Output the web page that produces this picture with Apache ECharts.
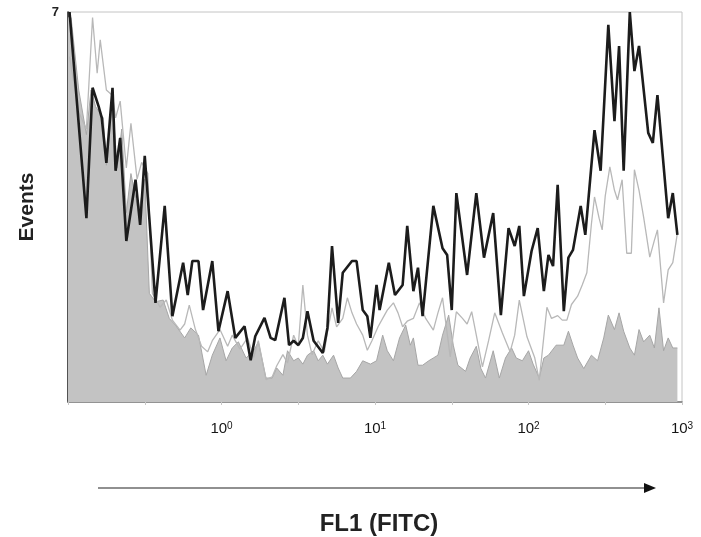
<!DOCTYPE html>
<html>
<head>
<meta charset="utf-8">
<script src="https://cdn.jsdelivr.net/npm/echarts@6/dist/echarts.min.js"></script>
<style>
  html, body { margin: 0; padding: 0; background: #fff; }
  #chart { width: 701px; height: 537px; }
</style>
</head>
<body>
<div id="chart"></div>
<script>
// FL1 positions are stored as log10 of the intensity (axis runs 10^-1 .. 10^3)
const decadeTicks = [0, 1, 2, 3];
const supDigits = ["0", "1", "2", "3"];

// filled grey histogram (control)
const controlPos = [-1.00,-0.98,-0.93,-0.88,-0.85,-0.82,-0.77,-0.75,-0.71,-0.68,-0.65,-0.62,-0.59,-0.54,-0.50,-0.47,-0.43,-0.38,-0.34,-0.30,-0.24,-0.20,-0.15,-0.10,-0.06,-0.01,0.03,0.07,0.11,0.16,0.21,0.24,0.29,0.33,0.36,0.40,0.43,0.47,0.50,0.53,0.56,0.60,0.63,0.66,0.69,0.73,0.76,0.79,0.84,0.88,0.92,0.97,1.01,1.05,1.08,1.12,1.16,1.20,1.23,1.25,1.28,1.31,1.35,1.38,1.41,1.44,1.48,1.51,1.54,1.59,1.62,1.66,1.69,1.72,1.77,1.81,1.85,1.89,1.92,1.96,2.00,2.03,2.07,2.10,2.13,2.18,2.23,2.26,2.29,2.32,2.36,2.41,2.45,2.49,2.52,2.56,2.59,2.62,2.66,2.69,2.72,2.75,2.79,2.82,2.85,2.88,2.91,2.94,2.97];
const controlEvents = [6.9,6.9,5.6,4.8,5.6,5.3,5.1,4.25,5.4,4.2,4.9,3.4,4.1,3.4,4.0,1.95,1.8,1.83,1.5,1.38,1.15,1.33,1.2,0.48,0.84,1.15,0.74,0.97,1.08,0.79,0.92,1.08,0.43,0.43,0.61,0.48,0.92,0.74,0.79,0.68,0.84,0.92,0.74,0.84,0.68,0.84,0.61,0.43,0.43,0.55,0.74,0.68,0.74,1.2,0.92,0.74,1.15,1.38,1.02,1.15,0.66,0.66,0.74,0.79,0.84,1.2,1.56,1.02,0.66,0.55,0.79,1.0,0.6,0.43,0.92,0.43,0.79,0.97,0.79,0.74,0.92,0.68,0.43,0.79,0.84,1.02,1.02,1.27,1.02,0.79,0.6,0.84,0.74,1.15,1.56,1.3,1.6,1.27,0.97,0.84,1.3,1.08,1.2,0.97,1.69,0.92,1.15,0.97,0.97];

// thin light grey line
const lightPos = [-0.99,-0.93,-0.88,-0.84,-0.81,-0.79,-0.75,-0.71,-0.69,-0.66,-0.62,-0.59,-0.55,-0.52,-0.48,-0.45,-0.40,-0.36,-0.32,-0.27,-0.24,-0.21,-0.17,-0.13,-0.09,-0.06,-0.01,0.04,0.07,0.12,0.17,0.21,0.24,0.29,0.33,0.36,0.40,0.43,0.47,0.50,0.53,0.56,0.59,0.63,0.67,0.69,0.72,0.75,0.79,0.82,0.85,0.88,0.92,0.95,0.98,1.02,1.05,1.08,1.12,1.15,1.18,1.21,1.25,1.29,1.33,1.38,1.41,1.44,1.49,1.53,1.57,1.60,1.63,1.66,1.70,1.74,1.78,1.83,1.88,1.91,1.94,1.99,2.04,2.07,2.12,2.15,2.19,2.22,2.25,2.28,2.32,2.35,2.38,2.41,2.43,2.46,2.48,2.50,2.53,2.56,2.58,2.61,2.64,2.67,2.69,2.72,2.75,2.79,2.82,2.84,2.88,2.91,2.94,2.97];
const lightEvents = [6.2,5.2,4.9,6.9,5.9,6.5,5.6,5.5,5.1,5.4,4.2,5.0,4.0,4.3,4.1,1.95,1.7,1.83,1.47,1.29,1.4,1.74,1.3,1.0,0.9,1.1,1.3,1.0,1.2,0.95,1.15,0.8,1.1,0.4,0.45,0.65,0.85,0.7,1.2,1.0,2.1,1.2,0.85,1.1,0.9,1.25,1.69,1.35,1.5,1.87,1.6,1.4,1.2,0.93,1.1,1.35,1.5,1.65,1.78,1.6,1.35,1.45,1.5,1.78,1.5,1.29,1.6,1.87,0.81,1.62,1.5,1.4,1.62,1.2,0.63,1.1,1.6,1.24,0.9,1.2,1.83,1.17,0.8,0.39,1.7,1.5,1.55,1.47,1.47,1.75,1.9,2.1,2.32,3.2,3.68,3.3,3.09,3.7,4.22,3.8,3.63,3.99,2.67,2.67,4.17,3.8,3.32,2.6,2.9,3.09,1.78,2.37,2.5,3.03];

// thick black line
const blackPos = [-0.99,-0.88,-0.84,-0.80,-0.78,-0.75,-0.71,-0.69,-0.66,-0.62,-0.56,-0.53,-0.50,-0.43,-0.37,-0.32,-0.25,-0.22,-0.19,-0.15,-0.12,-0.06,-0.02,0.04,0.09,0.15,0.19,0.22,0.28,0.32,0.35,0.41,0.44,0.47,0.50,0.53,0.56,0.60,0.66,0.69,0.72,0.76,0.79,0.85,0.88,0.92,0.95,0.97,1.01,1.03,1.09,1.13,1.18,1.21,1.25,1.28,1.31,1.38,1.44,1.47,1.50,1.53,1.60,1.66,1.71,1.77,1.82,1.87,1.91,1.94,1.97,2.02,2.06,2.10,2.13,2.16,2.19,2.23,2.26,2.29,2.34,2.37,2.43,2.47,2.52,2.56,2.59,2.62,2.66,2.69,2.72,2.78,2.81,2.84,2.91,2.94,2.97];
const blackEvents = [7.0,3.3,5.64,5.3,5.1,4.29,5.64,4.15,4.74,2.89,3.99,3.18,4.42,1.78,3.52,1.54,2.5,1.92,2.53,2.53,1.65,2.53,1.27,1.99,1.15,1.36,0.75,1.18,1.51,1.15,1.11,1.87,1.02,1.1,1.02,1.15,1.63,1.1,0.88,1.33,2.8,1.42,2.32,2.53,2.53,1.65,1.54,1.15,2.1,1.65,2.5,1.92,2.1,3.16,1.99,2.41,1.54,3.52,2.76,2.64,1.65,3.75,2.28,3.75,2.59,3.39,1.56,3.12,2.8,3.16,1.9,2.71,3.12,1.99,2.64,2.44,3.9,1.63,2.59,2.73,3.52,3.0,4.88,4.15,6.77,5.04,6.39,4.15,7.0,5.94,6.39,4.83,4.65,5.51,3.3,3.75,3.0];

const yMax = 7;

function pairs(xs, ys) {
  return xs.map((x, i) => [x, ys[i]]);
}

const chart = echarts.init(document.getElementById("chart"));

const option = {
  animation: false,
  backgroundColor: "#fff",
  textStyle: { fontFamily: "Liberation Sans, Arial, sans-serif" },
  grid: {
    left: 68,
    right: 19,
    top: 12,
    bottom: 135,
    show: true,
    borderColor: "#c4c4c4",
    borderWidth: 1,
  },
  xAxis: {
    type: "value",
    min: -1,
    max: 3,
    interval: 0.5,
    splitLine: { show: false },
    axisLine: { onZero: false, lineStyle: { color: "#7a7a7a", width: 1.5 } },
    axisTick: { show: true, length: 3, lineStyle: { color: "#c8c8c8" } },
    axisLabel: {
      showMaxLabel: true,
      margin: 19,
      color: "#111",
      formatter: (v) => {
        const k = decadeTicks.indexOf(v);
        return k < 0 ? "" : "{b|10}{s|" + supDigits[k] + "}";
      },
      rich: {
        b: { fontSize: 15, color: "#151515" },
        s: { fontSize: 10, color: "#151515", verticalAlign: "top", padding: [0, 0, 6, 0] },
      },
    },
  },
  yAxis: {
    type: "value",
    min: 0,
    max: yMax,
    interval: yMax,
    name: "Events",
    nameLocation: "middle",
    nameRotate: 90,
    nameGap: 30,
    nameTextStyle: { fontSize: 21, fontWeight: "bold", color: "#222" },
    splitLine: { show: false },
    axisLine: { show: true, onZero: false, lineStyle: { color: "#222", width: 1.5 } },
    axisTick: { show: false },
    axisLabel: {
      margin: 9,
      fontSize: 13,
      fontWeight: "bold",
      color: "#222",
      formatter: (v) => (v === yMax ? String(v) : ""),
    },
  },
  graphic: [
    {
      type: "line",
      shape: { x1: 98, y1: 488, x2: 646, y2: 488 },
      style: { stroke: "#222", lineWidth: 1.2 },
    },
    {
      type: "polygon",
      shape: { points: [[644, 483], [656, 488], [644, 493]] },
      style: { fill: "#111" },
    },
    {
      type: "text",
      x: 379,
      y: 524,
      style: {
        text: "FL1 (FITC)",
        font: "bold 24px Liberation Sans, Arial, sans-serif",
        fill: "#222",
        textAlign: "center",
        textVerticalAlign: "middle",
      },
    },
  ],
  series: [
    {
      name: "Control",
      type: "line",
      data: pairs(controlPos, controlEvents),
      showSymbol: false,
      lineStyle: { color: "#a6a6a6", width: 1 },
      areaStyle: { color: "#c3c3c3", opacity: 1 },
      z: 1,
    },
    {
      name: "Light",
      type: "line",
      data: pairs(lightPos, lightEvents),
      showSymbol: false,
      lineStyle: { color: "#b8b8b8", width: 1.3 },
      z: 2,
    },
    {
      name: "Black",
      type: "line",
      data: pairs(blackPos, blackEvents),
      showSymbol: false,
      lineStyle: { color: "#1c1c1c", width: 2.6 },
      z: 3,
    },
  ],
};

chart.setOption(option);
</script>
</body>
</html>
